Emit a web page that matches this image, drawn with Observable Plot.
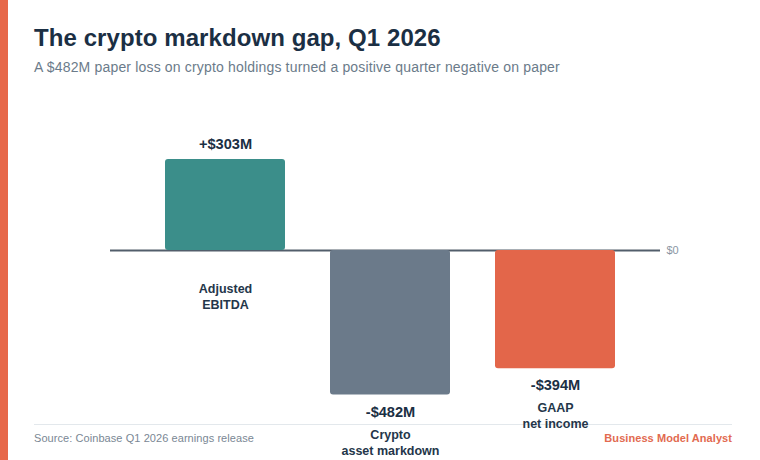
<!DOCTYPE html>
<html><head><meta charset="utf-8">
<script src="https://cdn.jsdelivr.net/npm/d3@7"></script>
<script src="https://cdn.jsdelivr.net/npm/@observablehq/plot@0.6"></script>
<style>
html,body{margin:0;padding:0;background:#fff;width:760px;height:460px;overflow:hidden;font-family:"Liberation Sans",Arial,sans-serif}
#rail{position:absolute;left:0;top:0;width:8px;height:460px;background:#E76849}
#title{position:absolute;left:34px;top:23px;font-size:24px;line-height:30px;font-weight:700;color:#1B2F44;letter-spacing:.08px;white-space:nowrap}
#sub{position:absolute;left:34px;top:58px;font-size:14px;line-height:18px;color:#6B7B8A;letter-spacing:.17px;white-space:nowrap}
#footline{position:absolute;left:34px;top:424px;width:698px;height:1px;background:#E3E8EC}
#src{position:absolute;left:34px;top:431px;font-size:11px;line-height:15px;color:#7A8794;letter-spacing:.07px;white-space:nowrap}
#brand{position:absolute;right:28px;top:431px;font-size:11px;line-height:15px;font-weight:700;color:#E26A50;letter-spacing:.07px;white-space:nowrap}
#chart{position:absolute;left:0;top:0}
#chart svg{overflow:visible;background:transparent}
</style></head><body>
<div id="rail"></div>
<div id="title">The crypto markdown gap, Q1 2026</div>
<div id="sub">A $482M paper loss on crypto holdings turned a positive quarter negative on paper</div>
<div id="footline"></div>
<div id="src">Source: Coinbase Q1 2026 earnings release</div>
<div id="brand">Business Model Analyst</div>
<div id="chart"></div>
<script>
const categories = ["Adjusted\nEBITDA", "Crypto\nasset markdown", "GAAP\nnet income"];
const values = [303, -482, -394];
const valueLabels = ["+$303M", "-$482M", "-$394M"];
const colors = ["#3B8E8A", "#6B7A8A", "#E3664A"];
const rows = categories.map((c, i) => ({category: c, value: values[i], label: valueLabels[i], color: colors[i]}));
const pos = rows.filter(d => d.value >= 0), neg = rows.filter(d => d.value < 0);
const font = '"Liberation Sans",Arial,sans-serif';
const plot = Plot.plot({
  width: 760, height: 460,
  marginLeft: 110, marginRight: 100, marginTop: 130, marginBottom: 30,
  style: {background: "transparent", fontFamily: font},
  x: {domain: categories, paddingInner: 0.2727, paddingOuter: 0.303, align: 0.55, axis: null},
  y: {domain: [-600, 400], axis: null},
  marks: [
    Plot.axisY({anchor: "right", ticks: [0], tickSize: 0, tickPadding: 6, tickFormat: () => "$0", label: null, fontSize: 11, color: "#8A96A3"}),
    Plot.ruleY([0], {stroke: "#525E6B", strokeWidth: 2}),
    Plot.barY(rows, {x: "category", y: "value", fill: "color", rx: 3}),
    Plot.text(pos, {x: "category", y: "value", text: "label", dy: -15, fontSize: 14.6, fontWeight: 700, fill: "#1B2F44"}),
    Plot.text(neg, {x: "category", y: "value", text: "label", dy: 17, fontSize: 14.6, fontWeight: 700, fill: "#1B2F44"}),
    Plot.text(pos, {x: "category", y: () => 0, text: "category", dy: 45, lineHeight: 1.27, fontSize: 12.5, fontWeight: 700, fill: "#24364A"}),
    Plot.text(neg, {x: "category", y: "value", text: "category", dy: 46.4, lineHeight: 1.27, fontSize: 12.5, fontWeight: 700, fill: "#24364A"})
  ]
});
document.getElementById("chart").append(plot);
</script>
</body></html>
